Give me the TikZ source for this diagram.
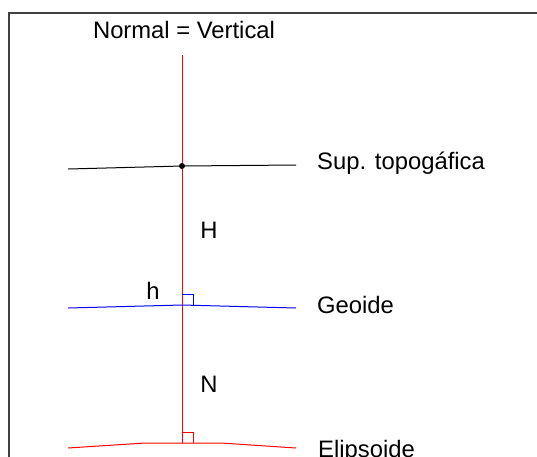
\documentclass[tikz,border=0pt]{standalone}
\usepackage{fontspec}
\setmainfont{Liberation Sans}
\begin{document}
\begin{tikzpicture}[x=1pt,y=-1pt,
  lbl/.style={font=\fontsize{23.8}{26}\selectfont, inner sep=0pt},
  thin line/.style={line width=1pt},
  rmark/.style={line width=0.9pt}]
\useasboundingbox (0,0) rectangle (537,456);
% frame
\draw[line width=1.2pt, black!75] (9,460) -- (9,13) -- (540,13);
% coordinates
\coordinate (vtop) at (182,55);
\coordinate (vbot) at (182,443);
\coordinate (P) at (182,166);
\coordinate (G) at (182,305);
\coordinate (E) at (182,443);
% normal / vertical
\draw[thin line, red] (vtop) -- (vbot);
% topographic surface
\draw[thin line, black] (68,169) -- (P) -- (296,165);
\fill (P) circle (3);
% geoid
\draw[thin line, blue] (68,308) -- (G) -- (296,308);
\draw[rmark, blue] (182,294) -- (193,294) -- (193,305);
% ellipsoid
\draw[thin line, red] (68,448) -- (145,443) -- (E) -- (221,443) -- (296,448);
\draw[rmark, red] (182,432) -- (193,432) -- (193,443);
% labels
\node[lbl, anchor=base] (tnormal) at (184,38) {Normal = Vertical};
\node[lbl, anchor=base west] (tsup) at (317,169) {Sup. topogáfica};
\node[lbl, anchor=base west] (tgeo) at (317,313) {Geoide};
\node[lbl, anchor=base west] (telip) at (318,457) {Elipsoide};
\node[lbl, anchor=base] (tH) at (209,238) {H};
\node[lbl, anchor=base] (tN) at (209,392) {N};
\node[lbl, anchor=base] (th) at (153,299) {h};
\end{tikzpicture}
\end{document}
